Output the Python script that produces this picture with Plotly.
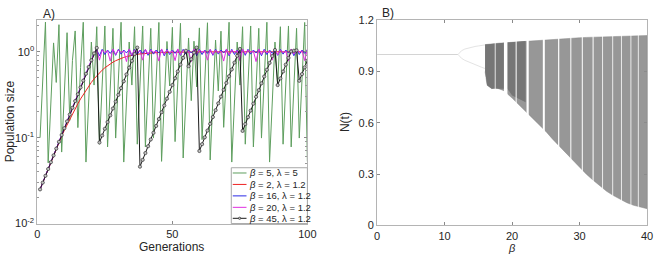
import plotly.graph_objects as go

# ---------------- data: panel A ----------------
generations = list(range(1, 101))

green_b5_l5 = [0.10, 0.50, 2.22, 0.051, 0.256, 1.27, 0.44, 2.07, 0.068, 0.34,
               1.67, 0.159, 0.795, 1.75, 0.131, 0.655, 2.21, 0.052, 0.261, 1.30,
               0.41, 1.96, 0.084, 0.42, 2.00, 0.078, 0.39, 1.88, 0.099, 0.495,
               2.21, 0.052, 0.26, 1.30, 0.41, 1.96, 0.084, 0.42, 2.00, 0.078,
               0.39, 1.88, 0.099, 0.50, 2.20, 0.053, 0.265, 1.32, 0.40, 1.93,
               0.090, 0.45, 2.15, 0.058, 0.29, 1.45, 0.27, 1.33, 0.39, 1.90,
               0.095, 0.47, 2.18, 0.055, 0.275, 1.37, 0.35, 1.74, 0.132, 0.66,
               2.21, 0.052, 0.26, 1.30, 0.41, 1.96, 0.084, 0.42, 2.00, 0.078,
               0.39, 1.88, 0.099, 0.495, 2.21, 0.052, 0.26, 1.30, 0.41, 1.96,
               0.084, 0.42, 2.00, 0.078, 0.39, 1.88, 0.099, 0.495, 2.20, 0.053]

red_b2_l12 = [0.025, 0.030, 0.036, 0.043, 0.052, 0.062, 0.074, 0.088, 0.104, 0.122,
              0.142, 0.165, 0.190, 0.218, 0.249, 0.283, 0.319, 0.358, 0.399, 0.441,
              0.484, 0.527, 0.570, 0.612, 0.652, 0.690, 0.725, 0.758, 0.788, 0.815,
              0.839, 0.861, 0.880, 0.897, 0.912, 0.925, 0.936, 0.946, 0.954, 0.961,
              0.967, 0.972, 0.977, 0.980, 0.983, 0.986, 0.988, 0.990, 0.992, 0.993,
              0.994, 0.995, 0.996, 0.997, 0.997, 0.998, 0.998, 0.998, 0.999, 0.999,
              0.999, 0.999, 0.999, 1.0, 1.0, 1.0, 1.0, 1.0, 1.0, 1.0,
              1.0, 1.0, 1.0, 1.0, 1.0, 1.0, 1.0, 1.0, 1.0, 1.0,
              1.0, 1.0, 1.0, 1.0, 1.0, 1.0, 1.0, 1.0, 1.0, 1.0,
              1.0, 1.0, 1.0, 1.0, 1.0, 1.0, 1.0, 1.0, 1.0, 1.0]

rise_start = [0.025, 0.030, 0.036, 0.0432, 0.0518, 0.0622, 0.0746, 0.0896, 0.1075, 0.129,
              0.155, 0.186, 0.223, 0.267, 0.321, 0.385, 0.462, 0.555, 0.666, 0.799,
              0.958]

blue_b16_l12 = rise_start + [
    1.06, 0.90, 1.07, 0.93, 1.05, 0.96, 1.06, 0.91, 1.07, 0.94,
    1.05, 0.97, 1.06, 0.90, 1.07, 0.93, 1.05, 0.96, 1.06, 0.91,
    1.07, 0.94, 1.05, 0.97, 1.06, 0.90, 1.07, 0.93, 1.05, 0.96,
    1.06, 0.91, 1.07, 0.94, 1.05, 0.97, 1.06, 0.90, 1.07, 0.93,
    1.05, 0.96, 1.06, 0.91, 1.07, 0.94, 1.05, 0.97, 1.06, 0.90,
    1.07, 0.93, 1.05, 0.96, 1.06, 0.91, 1.07, 0.94, 1.05, 0.97,
    1.06, 0.90, 1.07, 0.93, 1.05, 0.96, 1.06, 0.91, 1.07, 0.94,
    1.05, 0.97, 1.06, 0.90, 1.07, 0.93, 1.05, 0.96, 1.06]

magenta_b20_l12 = rise_start + [
    1.07, 0.80, 1.05, 0.98, 1.03, 0.78, 1.08, 0.93, 1.05, 0.99,
    1.02, 0.77, 1.08, 0.92, 1.05, 0.98, 1.03, 0.80, 1.07, 0.94,
    1.05, 0.99, 1.02, 0.78, 1.08, 0.93, 1.05, 0.97, 1.03, 0.79,
    1.08, 0.92, 1.05, 0.98, 1.02, 0.77, 1.08, 0.94, 1.05, 0.99,
    1.03, 0.80, 1.07, 0.93, 1.05, 0.97, 1.02, 0.78, 1.08, 0.92,
    1.05, 0.98, 1.03, 0.79, 1.08, 0.94, 1.05, 0.99, 1.02, 0.77,
    1.08, 0.93, 1.05, 0.97, 1.03, 0.80, 1.07, 0.92, 1.05, 0.98,
    1.02, 0.78, 1.08, 0.94, 1.05, 0.99, 1.03, 0.79, 1.08]

black_b45_l12 = [0.025, 0.030, 0.036, 0.0432, 0.0518, 0.0622, 0.0746, 0.0896, 0.1075, 0.129,
                 0.155, 0.186, 0.223, 0.267, 0.321, 0.385, 0.462, 0.555, 0.666, 0.799,
                 0.958, 1.11, 0.088, 0.106, 0.127, 0.152, 0.182, 0.219, 0.263, 0.315,
                 0.378, 0.454, 0.545, 0.654, 0.785, 0.942, 1.12, 0.046, 0.0552, 0.0662,
                 0.0795, 0.0954, 0.114, 0.137, 0.165, 0.198, 0.237, 0.285, 0.342, 0.410,
                 0.492, 0.591, 0.709, 0.851, 1.03, 0.68, 0.82, 0.98, 1.12, 0.070,
                 0.084, 0.101, 0.121, 0.145, 0.174, 0.209, 0.251, 0.301, 0.361, 0.433,
                 0.520, 0.624, 0.749, 0.899, 1.08, 0.120, 0.144, 0.173, 0.207, 0.249,
                 0.299, 0.358, 0.430, 0.516, 0.619, 0.743, 0.892, 1.05, 0.41, 0.49,
                 0.59, 0.71, 0.85, 1.01, 1.03, 1.04, 0.46, 0.55, 0.66, 0.79]

legend_labels = ["<i>β</i> = 5, λ = 5", "<i>β</i> = 2, λ = 1.2", "<i>β</i> = 16, λ = 1.2",
                 "<i>β</i> = 20, λ = 1.2", "<i>β</i> = 45, λ = 1.2"]

# ---------------- data: panel B ----------------
stable_beta = [0.0, 12.0]
stable_n = [1.0, 1.0]
cycle_beta = [12.0, 12.5, 13.0, 13.5, 14.0, 14.5, 15.0, 15.5, 16.0]
cycle_upper = [1.0, 1.022, 1.032, 1.038, 1.043, 1.047, 1.050, 1.053, 1.056]
cycle_lower = [1.0, 0.978, 0.966, 0.957, 0.948, 0.940, 0.932, 0.925, 0.918]

chaos_beta = [16.0, 16.3, 17.0, 17.5, 18.0, 18.7, 19.3, 20.0, 21.0, 22.0, 23.0, 24.0, 25.0,
              26.0, 27.0, 28.0, 29.0, 30.0, 31.0, 32.0, 33.0, 34.0, 35.0, 36.0, 37.0,
              38.0, 39.0, 40.0]
chaos_upper = [1.058, 1.06, 1.062, 1.064, 1.066, 1.068, 1.070, 1.072, 1.076, 1.079, 1.082, 1.085, 1.087,
               1.090, 1.092, 1.094, 1.096, 1.098, 1.100, 1.101, 1.103, 1.104, 1.105, 1.107, 1.108,
               1.109, 1.110, 1.111]
chaos_lower = [0.90, 0.82, 0.80, 0.81, 0.80, 0.79, 0.77, 0.745, 0.71, 0.67, 0.63, 0.59, 0.55,
               0.505, 0.46, 0.42, 0.38, 0.34, 0.30, 0.265, 0.23, 0.20, 0.175, 0.152, 0.133,
               0.118, 0.107, 0.098]
dark_beta = [16.0, 16.3, 17.0, 18.0, 19.3, 20.0, 21.0, 22.0]
dark_upper = [1.058, 1.06, 1.062, 1.066, 1.070, 1.072, 1.076, 1.079]
dark_lower = [0.90, 0.82, 0.80, 0.80, 0.80, 0.76, 0.74, 0.72]

window_beta = [17.5, 19.05, 20.6, 22.3, 24.7, 26.9, 28.7, 30.4, 32.0, 33.4, 34.9, 36.2, 37.6, 38.7]
window_px = [0.8, 3.5, 1.0, 2.2, 2.0, 1.2, 1.0, 1.0, 1.0, 0.8, 0.8, 0.8, 0.8, 0.8]

# ---------------- layout helpers ----------------
W, H = 662, 262
def fx(px):
    return px / W
def fy(py):
    return 1 - py / H

TXT = "#262626"
AX = "#b4b4b4"
FONT = "Liberation Sans, Arial, sans-serif"

fig = go.Figure()

# panel A traces
fig.add_trace(go.Scatter(x=generations, y=green_b5_l5, mode="lines",
                         line=dict(color="#5e9e5e", width=1), xaxis="x", yaxis="y", showlegend=False))
fig.add_trace(go.Scatter(x=generations, y=red_b2_l12, mode="lines",
                         line=dict(color="#ee2222", width=1), xaxis="x", yaxis="y", showlegend=False))
fig.add_trace(go.Scatter(x=generations, y=blue_b16_l12, mode="lines",
                         line=dict(color="#2a2ae6", width=1), xaxis="x", yaxis="y", showlegend=False))
fig.add_trace(go.Scatter(x=generations, y=magenta_b20_l12, mode="lines",
                         line=dict(color="#e02ee0", width=1), xaxis="x", yaxis="y", showlegend=False))
fig.add_trace(go.Scatter(x=generations, y=black_b45_l12, mode="lines+markers",
                         line=dict(color="#1a1a1a", width=1),
                         marker=dict(symbol="circle", size=3.2, color="#c4c4c4",
                                     line=dict(color="#303030", width=0.7)),
                         xaxis="x", yaxis="y", showlegend=False))

# panel B traces
fig.add_trace(go.Scatter(x=stable_beta, y=stable_n, mode="lines",
                         line=dict(color="#d4d4d4", width=1), xaxis="x2", yaxis="y2", showlegend=False))
fig.add_trace(go.Scatter(x=cycle_beta, y=cycle_upper, mode="lines",
                         line=dict(color="#e4e4e4", width=1), xaxis="x2", yaxis="y2", showlegend=False))
fig.add_trace(go.Scatter(x=cycle_beta, y=cycle_lower, mode="lines",
                         line=dict(color="#e4e4e4", width=1), xaxis="x2", yaxis="y2", showlegend=False))
fig.add_trace(go.Scatter(x=chaos_beta + chaos_beta[::-1], y=chaos_upper + chaos_lower[::-1],
                         mode="lines", fill="toself", fillcolor="#979797",
                         line=dict(color="#8a8a8a", width=0.5), xaxis="x2", yaxis="y2", showlegend=False))
fig.add_trace(go.Scatter(x=dark_beta + dark_beta[::-1], y=dark_upper + dark_lower[::-1],
                         mode="lines", fill="toself", fillcolor="#767676",
                         line=dict(color="#767676", width=0), xaxis="x2", yaxis="y2", showlegend=False))
for b, wpx in zip(window_beta, window_px):
    fig.add_trace(go.Scatter(x=[b, b], y=[0.03, 1.17], mode="lines",
                             line=dict(color="white", width=wpx), xaxis="x2", yaxis="y2",
                             showlegend=False, hoverinfo="skip"))

axis_common = dict(showline=True, linecolor=AX, linewidth=1, mirror="ticks", ticks="inside",
                   ticklen=3, tickcolor="#8a8a8a", showgrid=False, zeroline=False,
                   tickfont=dict(family=FONT, size=11, color=TXT))

fig.update_layout(
    width=W, height=H, margin=dict(l=0, r=0, t=0, b=0),
    paper_bgcolor="white", plot_bgcolor="white", showlegend=False,
    xaxis=dict(domain=[fx(35), fx(310)], range=[0, 100], tickvals=[0, 50, 100],
               anchor="y", **axis_common),
    yaxis=dict(domain=[fy(228), fy(15)], type="log", range=[-2, 0.367],
               tickvals=[0.01, 0.1, 1], ticktext=["10<sup>-2</sup>", "10<sup>-1</sup>", "10<sup>0</sup>"],
               anchor="x", minor=dict(ticks="inside", ticklen=2, dtick="D1", tickcolor="#9a9a9a"),
               **axis_common),
    xaxis2=dict(domain=[fx(381), fx(656)], range=[0, 40], tickvals=[0, 10, 20, 30, 40],
                anchor="y2", **axis_common),
    yaxis2=dict(domain=[fy(230), fy(15)], range=[0, 1.2], tickvals=[0, 0.3, 0.6, 0.9, 1.2],
                ticktext=["0", "0.3", "0.6", "0.9", "1.2"], anchor="x2", **axis_common),
)

def ann(text, x, y, size=12, angle=0, xanchor="center"):
    fig.add_annotation(text=text, x=fx(x), y=fy(y), xref="paper", yref="paper",
                       showarrow=False, textangle=angle, xanchor=xanchor, yanchor="middle",
                       font=dict(family=FONT, size=size, color=TXT))

ann("A)", 39, 8, 12, xanchor="left")
ann("B)", 384, 7, 12, xanchor="left")
ann("Generations", 172, 253, 12)
ann("Population size", 8, 121, 12, angle=-90)
ann("<i>β</i>", 518, 254, 11)
ann("N(t)", 349, 122, 12, angle=-90)

# legend (drawn in panel A)
leg_colors = ["#5e9e5e", "#ee2222", "#2a2ae6", "#e02ee0", "#1a1a1a"]
leg_rows = [175, 187, 199, 211, 222.5]
fig.add_shape(type="rect", xref="paper", yref="paper", x0=fx(232.5), x1=fx(310), y0=fy(228), y1=fy(169.5),
              fillcolor="white", line=dict(color="#a8a8a8", width=1), layer="above")
for lab, col, ry in zip(legend_labels, leg_colors, leg_rows):
    fig.add_shape(type="line", xref="paper", yref="paper", x0=fx(234), x1=fx(248), y0=fy(ry), y1=fy(ry),
                  line=dict(color=col, width=1), layer="above")
    fig.add_annotation(text=lab, x=fx(249), y=fy(ry), xref="paper", yref="paper", showarrow=False,
                       xanchor="left", yanchor="middle", font=dict(family=FONT, size=9.5, color=TXT))
fig.add_shape(type="circle", xref="paper", yref="paper", x0=fx(239.8), x1=fx(242.2),
              y0=fy(leg_rows[-1] + 1.2), y1=fy(leg_rows[-1] - 1.2),
              fillcolor="#c4c4c4", line=dict(color="#303030", width=0.7), layer="above")

fig.write_html("out.html", config={"displayModeBar": False},
               post_script="document.body.style.margin='0';document.body.style.overflow='hidden';")
